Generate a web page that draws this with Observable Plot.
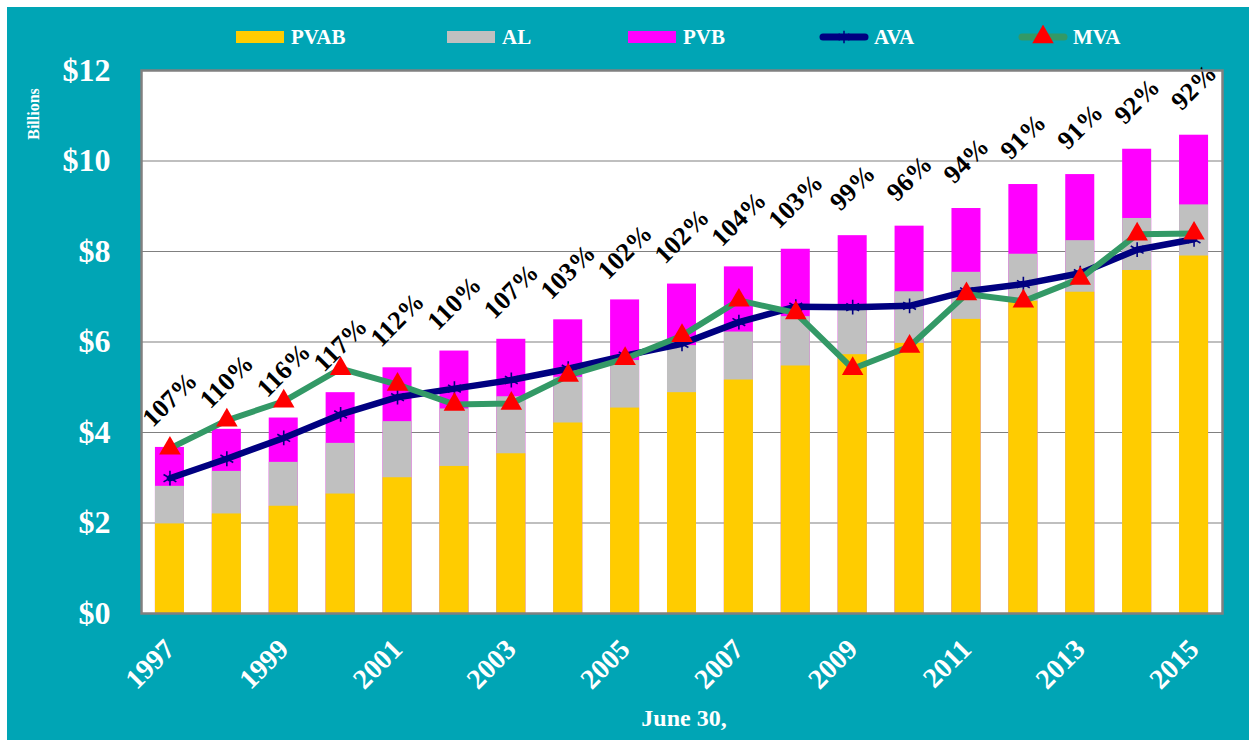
<!DOCTYPE html>
<html>
<head>
<meta charset="utf-8">
<script src="https://cdn.jsdelivr.net/npm/d3@7"></script>
<script src="https://cdn.jsdelivr.net/npm/@observablehq/plot@0.6"></script>
<style>
  body { margin: 0; background: #fff; width: 1249px; height: 740px; overflow: hidden; position: relative;
         font-family: "Liberation Serif", "Times New Roman", serif; }
  #bg { position: absolute; left: 7px; top: 7px; width: 1242px; height: 733px; background: #00A5B5; }
  #chart { position: absolute; left: 0; top: 0; }
  .legend-item { position: absolute; top: 25px; height: 24px; display: flex; align-items: center;
                 color: #fff; font-weight: bold; font-size: 21px; }
  .legend-item svg { margin-right: 5px; }
  #billions { position: absolute; left: 34px; top: 114px; transform: translate(-50%, -50%) rotate(-90deg);
              color: #fff; font-weight: bold; font-size: 16px; white-space: nowrap; }
  #xlabel { position: absolute; left: 684px; top: 718px; transform: translate(-50%, -50%);
            color: #fff; font-weight: bold; font-size: 24px; white-space: nowrap; }
</style>
</head>
<body>
<div id="bg"></div>
<div id="chart"></div>
<div id="legend"></div>
<div id="billions">Billions</div>
<div id="xlabel">June 30,</div>
<script>
const years = [1997, 1998, 1999, 2000, 2001, 2002, 2003, 2004, 2005, 2006, 2007, 2008, 2009, 2010, 2011, 2012, 2013, 2014, 2015];
const PVAB = [1.98, 2.20, 2.37, 2.64, 3.00, 3.25, 3.53, 4.21, 4.54, 4.88, 5.16, 5.47, 5.72, 5.97, 6.50, 6.90, 7.10, 7.58, 7.90];
const AL   = [2.81, 3.14, 3.34, 3.76, 4.24, 4.52, 4.79, 5.22, 5.59, 5.92, 6.22, 6.56, 6.75, 7.11, 7.54, 7.94, 8.24, 8.73, 9.03];
const PVB  = [3.67, 4.07, 4.32, 4.88, 5.43, 5.80, 6.06, 6.49, 6.93, 7.28, 7.66, 8.05, 8.35, 8.56, 8.95, 9.48, 9.70, 10.26, 10.57];
const AVA  = [2.99, 3.42, 3.88, 4.40, 4.78, 4.97, 5.16, 5.41, 5.70, 5.96, 6.44, 6.78, 6.77, 6.80, 7.12, 7.28, 7.52, 8.04, 8.27];
const MVA  = [3.65, 4.27, 4.69, 5.41, 5.06, 4.62, 4.64, 5.26, 5.63, 6.14, 6.92, 6.64, 5.41, 5.90, 7.06, 6.90, 7.40, 8.38, 8.40];
const ratioLabels = ["107%", "110%", "116%", "117%", "112%", "110%", "107%", "103%", "102%", "102%", "104%", "103%", "99%", "96%", "94%", "91%", "91%", "92%", "92%"];
const yTicks = [0, 2, 4, 6, 8, 10, 12];
const xTickYears = [1997, 1999, 2001, 2003, 2005, 2007, 2009, 2011, 2013, 2015];

const colors = { PVAB: "#FFCC00", AL: "#C0C0C0", PVB: "#FF00FF", AVA: "#000080", MVA: "#339966", tri: "#FF0000" };

const data = years.map((year, i) => ({
  year, PVAB: PVAB[i], AL: AL[i], PVB: PVB[i], AVA: AVA[i], MVA: MVA[i], ratio: ratioLabels[i]
}));

const font = '"Liberation Serif", "Times New Roman", serif';

const chart = Plot.plot({
  width: 1249,
  height: 740,
  marginLeft: 141,
  marginRight: 27,
  marginTop: 70,
  marginBottom: 127,
  style: { background: "transparent", color: "white", fontFamily: font, overflow: "visible" },
  x: { type: "band", domain: years, paddingInner: 0.49, paddingOuter: 0.245, round: false, axis: null },
  y: { domain: [0, 12], axis: null },
  marks: [
    Plot.frame({ fill: "white", stroke: null }),
    Plot.gridY([2, 4, 6, 8, 10], { stroke: "#808080", strokeOpacity: 1, strokeWidth: 1.2 }),
    Plot.barY(data, { x: "year", y: "PVB", fill: colors.PVB }),
    Plot.barY(data, { x: "year", y: "AL", fill: colors.AL }),
    Plot.barY(data, { x: "year", y: "PVAB", fill: colors.PVAB }),
    Plot.line(data, { x: "year", y: "AVA", stroke: colors.AVA, strokeWidth: 6.5 }),
    Plot.dot(data, { x: "year", y: "AVA", symbol: "asterisk", stroke: colors.AVA, r: 7, strokeWidth: 1.6 }),
    Plot.line(data, { x: "year", y: "MVA", stroke: colors.MVA, strokeWidth: 6 }),
    Plot.dot(data, { x: "year", y: "MVA", symbol: "triangle", fill: colors.tri, stroke: null, r: 8 }),
    Plot.text(data, { x: "year", y: "PVB", text: "ratio", dy: -48, rotate: -45, fontSize: 26, fontWeight: "bold", fill: "black", fontFamily: font }),
    Plot.frame({ stroke: "#808080", strokeWidth: 2.5 }),
    Plot.axisY({ ticks: yTicks, tickFormat: d => "$" + d, tickSize: 0, tickPadding: 31, fontSize: 32, fontWeight: "bold", label: null }),
    Plot.axisX({ ticks: xTickYears, tickFormat: d => String(d), tickSize: 0, tickRotate: -45, tickPadding: 31, fontSize: 28, fontWeight: "bold", label: null })
  ]
});
document.getElementById("chart").appendChild(chart);

// Legend
const legendItems = [
  { name: "PVAB", kind: "rect", color: colors.PVAB },
  { name: "AL", kind: "rect", color: colors.AL },
  { name: "PVB", kind: "rect", color: colors.PVB },
  { name: "AVA", kind: "line", color: colors.AVA, marker: "asterisk" },
  { name: "MVA", kind: "line", color: colors.MVA, marker: "triangle" }
];
const legendLeft = [236, 447, 628, 819, 1018];
const legend = document.getElementById("legend");
legendItems.forEach((it, i) => {
  const div = document.createElement("div");
  div.className = "legend-item";
  div.style.left = legendLeft[i] + "px";
  const svg = d3.create("svg").attr("width", 50).attr("height", 24);
  if (it.kind === "rect") {
    svg.append("rect").attr("x", 0).attr("y", 6).attr("width", 48).attr("height", 12).attr("fill", it.color);
  } else {
    svg.append("line").attr("x1", 4).attr("x2", 46).attr("y1", 12).attr("y2", 12)
      .attr("stroke", it.color).attr("stroke-width", 7).attr("stroke-linecap", "round");
    if (it.marker === "asterisk") {
      svg.append("path").attr("transform", "translate(25,12)")
        .attr("d", d3.symbol(d3.symbolAsterisk, 110)()).attr("stroke", colors.AVA).attr("stroke-width", 1.5).attr("fill", "none");
    } else {
      svg.append("path").attr("transform", "translate(25,12)")
        .attr("d", d3.symbol(d3.symbolTriangle, 200)()).attr("fill", colors.tri);
    }
  }
  div.appendChild(svg.node());
  const span = document.createElement("span");
  span.textContent = it.name;
  div.appendChild(span);
  legend.appendChild(div);
});
</script>
</body>
</html>
